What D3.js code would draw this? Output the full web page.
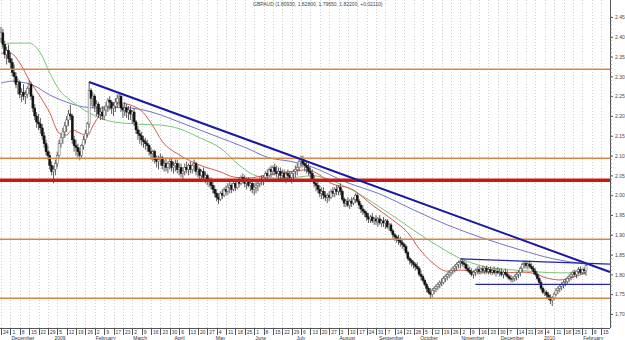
<!DOCTYPE html>
<html>
<head>
<meta charset="utf-8">
<script src="https://cdn.jsdelivr.net/npm/d3@7"></script>
<style>
  body { margin: 0; background: #fff; }
  svg { display: block; font-family: "Liberation Sans", Arial, sans-serif; }
</style>
</head>
<body>
<div id="chart"></div>
<script>
// Daily candles as [high, low, close]; each open is the previous close
const nov08 = [[2.425,2.385,2.41],[2.42,2.37,2.38],[2.39,2.345,2.355],[2.375,2.33,2.365],[2.38,2.335,2.345]];
const dec08 = [[2.36,2.32,2.335],[2.345,2.30,2.31],[2.33,2.285,2.30],[2.31,2.27,2.28],[2.295,2.255,2.285],
  [2.29,2.245,2.255],[2.27,2.235,2.26],[2.28,2.24,2.25],[2.265,2.23,2.255],[2.275,2.245,2.27],
  [2.29,2.255,2.28],[2.285,2.24,2.25],[2.255,2.21,2.22],[2.23,2.19,2.20],[2.21,2.17,2.185],
  [2.205,2.165,2.18],[2.195,2.155,2.17],[2.18,2.14,2.15],[2.16,2.12,2.13],[2.14,2.10,2.11],
  [2.125,2.09,2.10],[2.11,2.065,2.075],[2.085,2.05,2.06]];
const jan09 = [[2.075,2.03,2.065],[2.09,2.05,2.08],[2.11,2.07,2.10],[2.14,2.095,2.13],[2.155,2.12,2.145],
  [2.17,2.13,2.16],[2.185,2.145,2.175],[2.20,2.16,2.19],[2.215,2.175,2.205],[2.228,2.19,2.20],
  [2.205,2.13,2.14],[2.15,2.11,2.125],[2.14,2.10,2.12],[2.13,2.095,2.11],[2.12,2.088,2.10],
  [2.13,2.095,2.125],[2.15,2.115,2.14],[2.165,2.13,2.155],[2.185,2.145,2.18],[2.286,2.17,2.265],
  [2.27,2.225,2.245],[2.26,2.22,2.25]];
const feb09 = [[2.255,2.21,2.225],[2.24,2.20,2.23],[2.235,2.195,2.205],[2.22,2.19,2.21],[2.225,2.19,2.20],
  [2.225,2.19,2.215],[2.235,2.20,2.225],[2.245,2.21,2.24],[2.25,2.215,2.235],[2.24,2.205,2.22],
  [2.235,2.20,2.225],[2.245,2.21,2.235],[2.255,2.22,2.245],[2.258,2.225,2.25],[2.255,2.21,2.22],
  [2.23,2.195,2.215],[2.235,2.20,2.22],[2.23,2.195,2.21],[2.225,2.19,2.215],[2.225,2.19,2.205]];
const mar09 = [[2.215,2.18,2.21],[2.22,2.175,2.185],[2.19,2.155,2.165],[2.175,2.14,2.155],[2.165,2.13,2.15],
  [2.16,2.125,2.14],[2.15,2.12,2.135],[2.145,2.115,2.13],[2.14,2.11,2.125],[2.13,2.10,2.11],
  [2.12,2.09,2.105],[2.115,2.085,2.11],[2.115,2.08,2.09],[2.10,2.07,2.085],[2.10,2.065,2.09],
  [2.105,2.075,2.095],[2.10,2.065,2.075],[2.09,2.06,2.08],[2.095,2.06,2.07],[2.085,2.055,2.08],
  [2.095,2.065,2.085],[2.095,2.06,2.07]];
const apr09 = [[2.085,2.055,2.075],[2.09,2.06,2.08],[2.09,2.055,2.065],[2.08,2.05,2.07],[2.08,2.045,2.055],
  [2.07,2.04,2.06],[2.08,2.05,2.07],[2.085,2.055,2.065],[2.08,2.05,2.075],[2.085,2.055,2.065],
  [2.08,2.055,2.075],[2.09,2.06,2.08],[2.085,2.05,2.06],[2.075,2.045,2.065],[2.07,2.04,2.05],
  [2.065,2.035,2.06],[2.07,2.04,2.045],[2.06,2.03,2.05],[2.055,2.025,2.035],[2.045,2.02,2.04],
  [2.045,2.015,2.025],[2.035,2.005,2.015]];
const may09 = [[2.025,1.995,2.005],[2.015,1.985,1.995],[2.005,1.978,1.99],[2.01,1.985,2.005],[2.015,1.99,2.0],
  [2.02,1.995,2.015],[2.025,2.0,2.01],[2.03,2.0,2.02],[2.035,2.005,2.025],[2.03,2.005,2.015],
  [2.035,2.01,2.03],[2.04,2.01,2.02],[2.04,2.015,2.035],[2.045,2.02,2.03],[2.05,2.025,2.045],
  [2.055,2.03,2.04],[2.05,2.02,2.03],[2.045,2.015,2.035],[2.045,2.02,2.025],[2.04,2.01,2.03],
  [2.035,2.005,2.015]];
const jun09 = [[2.03,2.0,2.02],[2.035,2.005,2.025],[2.04,2.01,2.03],[2.045,2.02,2.04],[2.05,2.025,2.035],
  [2.05,2.025,2.045],[2.06,2.035,2.055],[2.065,2.04,2.05],[2.07,2.045,2.065],[2.075,2.045,2.06],
  [2.075,2.05,2.07],[2.08,2.05,2.06],[2.075,2.045,2.055],[2.07,2.04,2.06],[2.07,2.04,2.05],
  [2.065,2.035,2.055],[2.065,2.04,2.045],[2.06,2.03,2.055],[2.065,2.04,2.05],[2.06,2.035,2.045],
  [2.06,2.03,2.055],[2.065,2.04,2.06]];
const jul09 = [[2.075,2.045,2.065],[2.08,2.05,2.07],[2.09,2.06,2.085],[2.10,2.07,2.09],[2.10,2.07,2.08],
  [2.09,2.06,2.075],[2.085,2.055,2.07],[2.08,2.05,2.06],[2.07,2.04,2.055],[2.065,2.035,2.04],
  [2.05,2.02,2.03],[2.04,2.01,2.025],[2.035,2.005,2.015],[2.025,1.995,2.005],[2.02,1.99,2.01],
  [2.02,1.99,2.0],[2.01,1.985,1.995],[2.005,1.98,2.0],[2.01,1.985,1.995],[2.015,1.99,2.01],
  [2.02,1.995,2.005],[2.02,1.995,2.015],[2.025,2.0,2.01]];
const aug09 = [[2.025,2.0,2.02],[2.03,2.0,2.01],[2.015,1.985,1.99],[1.995,1.97,1.98],[1.99,1.97,1.985],
  [1.995,1.97,1.975],[1.99,1.965,1.985],[1.995,1.97,1.98],[1.995,1.975,1.99],[2.005,1.98,2.0],
  [2.005,1.98,1.985],[1.99,1.965,1.975],[1.98,1.955,1.965],[1.975,1.95,1.96],[1.965,1.945,1.955],
  [1.96,1.935,1.945],[1.955,1.93,1.94],[1.95,1.93,1.945],[1.955,1.93,1.935],[1.945,1.925,1.94],
  [1.95,1.925,1.935]];
const sep09 = [[1.945,1.92,1.94],[1.95,1.925,1.93],[1.94,1.92,1.935],[1.945,1.92,1.93],[1.94,1.915,1.935],
  [1.94,1.915,1.92],[1.93,1.91,1.925],[1.93,1.905,1.91],[1.915,1.89,1.90],[1.905,1.885,1.895],
  [1.90,1.88,1.89],[1.90,1.875,1.885],[1.895,1.87,1.88],[1.89,1.865,1.875],[1.88,1.86,1.87],
  [1.875,1.85,1.855],[1.86,1.835,1.84],[1.845,1.825,1.835],[1.84,1.82,1.83],[1.835,1.815,1.825],
  [1.83,1.81,1.82],[1.83,1.81,1.815]];
const oct09 = [[1.82,1.795,1.80],[1.81,1.785,1.795],[1.80,1.78,1.785],[1.79,1.77,1.775],[1.78,1.755,1.765],
  [1.77,1.75,1.755],[1.765,1.74,1.75],[1.765,1.742,1.76],[1.77,1.75,1.765],[1.775,1.755,1.77],
  [1.78,1.76,1.775],[1.785,1.765,1.78],[1.79,1.77,1.78],[1.795,1.775,1.79],[1.80,1.78,1.795],
  [1.805,1.785,1.80],[1.81,1.79,1.805],[1.815,1.795,1.81],[1.82,1.80,1.815],[1.825,1.805,1.82],
  [1.83,1.81,1.825],[1.835,1.815,1.83]];
const nov09 = [[1.838,1.815,1.832],[1.84,1.82,1.828],[1.835,1.815,1.825],[1.832,1.81,1.815],[1.825,1.805,1.81],
  [1.82,1.80,1.805],[1.815,1.795,1.80],[1.81,1.79,1.805],[1.815,1.795,1.81],[1.82,1.80,1.812],
  [1.822,1.80,1.808],[1.818,1.80,1.814],[1.822,1.802,1.81],[1.82,1.80,1.815],[1.822,1.802,1.808],
  [1.818,1.80,1.812],[1.82,1.80,1.806],[1.815,1.798,1.81],[1.82,1.80,1.805],[1.815,1.795,1.808],
  [1.818,1.80,1.804]];
const dec09 = [[1.815,1.795,1.806],[1.815,1.795,1.80],[1.81,1.79,1.805],[1.815,1.795,1.80],[1.81,1.79,1.795],
  [1.80,1.785,1.79],[1.798,1.78,1.788],[1.795,1.78,1.79],[1.80,1.782,1.795],[1.805,1.785,1.80],
  [1.81,1.79,1.805],[1.82,1.795,1.815],[1.83,1.805,1.825],[1.835,1.815,1.828],[1.835,1.815,1.822],
  [1.832,1.812,1.826],[1.835,1.815,1.82],[1.828,1.81,1.815],[1.822,1.80,1.808],[1.815,1.795,1.80],
  [1.805,1.785,1.79],[1.795,1.775,1.78],[1.785,1.76,1.765]];
const jan10 = [[1.77,1.75,1.755],[1.762,1.745,1.755],[1.76,1.74,1.748],[1.755,1.735,1.742],[1.75,1.725,1.735],
  [1.745,1.72,1.74],[1.755,1.735,1.75],[1.765,1.745,1.76],[1.77,1.75,1.765],[1.775,1.755,1.77],
  [1.78,1.76,1.775],[1.785,1.765,1.78],[1.79,1.77,1.782],[1.795,1.775,1.79],[1.80,1.78,1.795],
  [1.805,1.785,1.80],[1.81,1.79,1.805],[1.812,1.795,1.80],[1.81,1.79,1.808],[1.818,1.80,1.812],
  [1.82,1.80,1.805]];
const feb10 = [[1.815,1.80,1.812],[1.818,1.80,1.8093],[1.828,1.7965,1.822]];
const firstOpen = 2.395;

// Moving averages as [day index, value]
const maFast = [[0,2.359],[5,2.359],[10,2.334],[15,2.291],[21,2.248],[26,2.208],[31,2.157],[35,2.152],
  [38,2.165],[42,2.157],[46,2.150],[49,2.175],[53,2.205],[58,2.225],[63,2.233],[70,2.226],[76,2.208],
  [81,2.175],[86,2.136],[95,2.102],[106,2.076],[117,2.059],[124,2.046],[131,2.043],[142,2.051],
  [153,2.059],[163,2.064],[170,2.051],[175,2.033],[188,2.013],[198,1.975],[209,1.937],[217,1.905],
  [223,1.865],[230,1.830],[238,1.808],[245,1.811],[252,1.807],[259,1.806],[270,1.804],[277,1.806],
  [284,1.803],[291,1.791],[298,1.786],[305,1.793],[312,1.804]];
const maMid = [[0,2.374],[5,2.384],[15,2.384],[21,2.359],[26,2.309],[31,2.266],[37,2.240],[42,2.223],
  [47,2.208],[53,2.195],[58,2.187],[63,2.183],[69,2.181],[74,2.179],[85,2.177],[95,2.168],[106,2.145],
  [117,2.119],[127,2.076],[134,2.053],[142,2.044],[152,2.043],[166,2.049],[184,2.021],[202,1.970],
  [220,1.912],[234,1.869],[246,1.838],[255,1.823],[266,1.814],[277,1.810],[287,1.806],[298,1.804],[312,1.804]];
const maSlow = [[0,2.283],[6,2.288],[10,2.286],[17,2.278],[26,2.253],[35,2.235],[44,2.223],[53,2.220],
  [63,2.222],[74,2.217],[85,2.203],[95,2.185],[113,2.152],[131,2.119],[142,2.096],[156,2.084],
  [166,2.071],[184,2.033],[202,2.003],[220,1.963],[238,1.925],[255,1.895],[277,1.862],[294,1.840],[312,1.826]];

// Drawn objects: horizontal levels and trend lines
const levelLines = [2.318, 2.093, 1.889, 1.740];
const keyLevel = 2.038;
const trendLine = [[47, 2.286], [324.8, 1.806]];
const rangeTop = [[245, 1.839], [324.8, 1.826]];
const rangeBottom = [[253, 1.775], [324.8, 1.775]];

const yTicks = [1.70, 1.75, 1.80, 1.85, 1.90, 1.95, 2.00, 2.05, 2.10, 2.15, 2.20, 2.25, 2.30, 2.35, 2.40, 2.45];
const weekLabels = ["24","1","8","15","22","29","5","12","19","26","2","9","17","23","2","9","16","23","30",
  "6","13","20","27","4","11","18","25","1","8","15","22","29","6","13","20","27","3","10","17","24","31",
  "7","14","21","28","5","12","19","26","2","9","16","23","30","7","14","21","28","4","11","18","25","1","8","15"];
const monthLabels = ["December","2009","February","March","April","May","June","July","August",
  "September","October","November","December","2010","February"];
const title = "GBPAUD (1.80930, 1.82800, 1.79650, 1.82200, +0.02110)";

function drawChart() {
  const width = 625, height = 340;
  const plotRight = 610, plotBottom = 328;

  const rows = [].concat(nov08, dec08, jan09, feb09, mar09, apr09, may09, jun09,
    jul09, aug09, sep09, oct09, nov09, dec09, jan10, feb10);
  const candles = rows.map((r, i) => ({
    i: i,
    open: i === 0 ? firstOpen : rows[i - 1][2],
    high: r[0], low: r[1], close: r[2]
  }));

  // trading days (weekdays) from the first candle
  const days = [];
  let d = new Date(2008, 10, 24);
  while (days.length < 330) {
    if (d.getDay() !== 0 && d.getDay() !== 6) days.push(new Date(d));
    d = d3.timeDay.offset(d, 1);
  }

  const x = d3.scaleLinear().domain([0, 324.8]).range([1, plotRight]);
  const y = d3.scaleLinear().domain([2.45, 1.70]).range([17, 314]);

  const svg = d3.select("#chart").append("svg")
    .attr("width", width).attr("height", height);

  // weekly dotted grid
  const weekIdx = weekLabels.map((_, k) => k * 5);
  svg.append("g").selectAll("line").data(weekIdx).enter().append("line")
    .attr("x1", (k) => Math.round(x(k)) + 0.5).attr("x2", (k) => Math.round(x(k)) + 0.5)
    .attr("y1", 0).attr("y2", plotBottom)
    .attr("stroke", "#cfcfcf").attr("stroke-width", 1).attr("stroke-dasharray", "1,2");

  // moving averages
  const maLine = d3.line().x((p) => x(p[0])).y((p) => y(p[1])).curve(d3.curveMonotoneX);
  [[maSlow, "#7373c8"], [maMid, "#78c478"], [maFast, "#d25a4e"]].forEach(([ma, col]) => {
    svg.append("path").attr("d", maLine(ma)).attr("fill", "none")
      .attr("stroke", col).attr("stroke-width", 1);
  });

  // candles
  const cg = svg.append("g");
  cg.selectAll("line").data(candles).enter().append("line")
    .attr("x1", (c) => x(c.i)).attr("x2", (c) => x(c.i))
    .attr("y1", (c) => y(Math.max(c.high, c.open, c.close)))
    .attr("y2", (c) => y(Math.min(c.low, c.open, c.close)))
    .attr("stroke", "#333").attr("stroke-width", 0.8);
  cg.selectAll("rect").data(candles).enter().append("rect")
    .attr("x", (c) => x(c.i) - 1).attr("width", 2)
    .attr("y", (c) => y(Math.max(c.open, c.close)))
    .attr("height", (c) => Math.max(0.8, Math.abs(y(c.open) - y(c.close))))
    .attr("fill", (c) => (c.close >= c.open ? "#fff" : "#111"))
    .attr("stroke", (c) => (c.close >= c.open ? "#555" : "#111"))
    .attr("stroke-width", 0.5);

  // horizontal levels
  svg.append("g").selectAll("line").data(levelLines).enter().append("line")
    .attr("x1", 0).attr("x2", plotRight)
    .attr("y1", (v) => y(v)).attr("y2", (v) => y(v))
    .attr("stroke", "#d98445").attr("stroke-width", 1.5);
  svg.append("line").attr("x1", 0).attr("x2", plotRight)
    .attr("y1", y(keyLevel)).attr("y2", y(keyLevel))
    .attr("stroke", "#c81818").attr("stroke-width", 3.5);

  // trend lines
  const straight = d3.line().x((p) => x(p[0])).y((p) => y(p[1]));
  svg.append("path").attr("d", straight(trendLine)).attr("stroke", "#1818a0")
    .attr("stroke-width", 2).attr("fill", "none");
  [rangeTop, rangeBottom].forEach((seg) => {
    svg.append("path").attr("d", straight(seg)).attr("stroke", "#2424a8")
      .attr("stroke-width", 1.3).attr("fill", "none");
  });

  // right price axis
  const yAxis = d3.axisRight(y).tickValues(yTicks).tickFormat(d3.format(".2f")).tickSize(3);
  const ag = svg.append("g").attr("transform", `translate(${plotRight},0)`).call(yAxis);
  ag.select(".domain").attr("d", `M0.5,0V${plotBottom}`).attr("stroke", "#555");
  ag.selectAll("line").attr("stroke", "#555");
  ag.selectAll("text").attr("x", 5).style("font-size", "5px").attr("fill", "#444");
  const minor = d3.range(0, 79).map((k) => 1.67 + k * 0.01);
  svg.append("g").selectAll("line").data(minor).enter().append("line")
    .attr("x1", plotRight).attr("x2", plotRight + 2)
    .attr("y1", (v) => y(v)).attr("y2", (v) => y(v))
    .attr("stroke", "#777").attr("stroke-width", 0.6);

  // bottom date axis
  const bg = svg.append("g");
  bg.append("line").attr("x1", 0).attr("x2", plotRight).attr("y1", plotBottom + 0.5)
    .attr("y2", plotBottom + 0.5).attr("stroke", "#555");
  bg.selectAll(".sep").data(weekIdx).enter().append("line")
    .attr("x1", (k) => Math.round(x(k)) + 0.5).attr("x2", (k) => Math.round(x(k)) + 0.5)
    .attr("y1", plotBottom).attr("y2", plotBottom + 7).attr("stroke", "#555");
  bg.selectAll(".wk").data(weekLabels).enter().append("text")
    .attr("x", (_, k) => x(k * 5) + 2).attr("y", plotBottom + 6)
    .style("font-size", "5px").attr("fill", "#333").text((t) => t);

  const monthStarts = [];
  days.forEach((day, i) => {
    if (i > 0 && day.getMonth() !== days[i - 1].getMonth()) monthStarts.push(i);
  });
  bg.selectAll(".mo").data(monthLabels).enter().append("text")
    .attr("x", (_, k) => x(monthStarts[k]) + 1).attr("y", plotBottom + 12)
    .style("font-size", "5px").attr("fill", "#333").text((t) => t);

  // title
  svg.append("text").attr("x", 253).attr("y", 6).style("font-size", "5px")
    .attr("fill", "#444").text(title);
}

window.onload = drawChart;
</script>
</body>
</html>
